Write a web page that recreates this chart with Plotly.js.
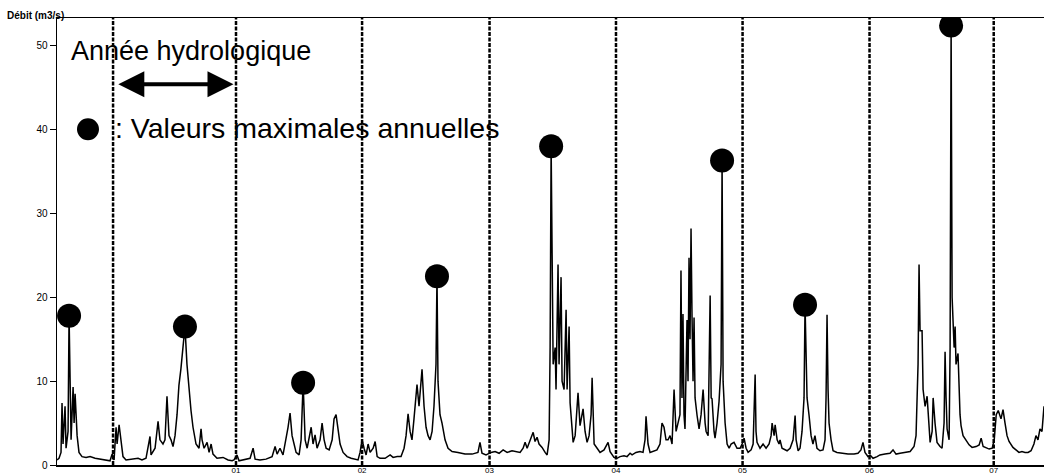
<!DOCTYPE html>
<html>
<head>
<meta charset="utf-8">
<script src="https://cdn.plot.ly/plotly-3.0.1.min.js"></script>
<style>
  html, body { margin: 0; padding: 0; background: #ffffff; }
  #chart { width: 1044px; height: 475px; }
</style>
</head>
<body>
<div id="chart"></div>
<script>
const years = [
1999.506,1999.522,1999.538,1999.546,1999.554,1999.570,1999.578,1999.594,1999.602,1999.618,
1999.634,1999.642,1999.650,1999.666,1999.681,1999.705,1999.737,1999.769,1999.809,1999.848,
1999.888,1999.920,1999.928,1999.944,1999.960,1999.976,1999.984,2000.000,2000.016,2000.031,
2000.055,2000.103,2000.151,2000.182,2000.214,2000.246,2000.254,2000.286,2000.310,2000.325,
2000.349,2000.365,2000.381,2000.397,2000.413,2000.429,2000.445,2000.461,2000.476,2000.492,
2000.508,2000.524,2000.540,2000.556,2000.572,2000.588,2000.612,2000.636,2000.652,2000.660,
2000.676,2000.700,2000.716,2000.732,2000.747,2000.779,2000.827,2000.867,2000.899,2000.914,
2000.938,2000.954,2000.994,2001.042,2001.066,2001.082,2001.121,2001.169,2001.217,2001.241,
2001.257,2001.280,2001.304,2001.328,2001.344,2001.360,2001.376,2001.392,2001.408,2001.432,
2001.448,2001.464,2001.480,2001.496,2001.512,2001.528,2001.543,2001.559,2001.575,2001.599,
2001.615,2001.631,2001.647,2001.671,2001.695,2001.710,2001.726,2001.742,2001.758,2001.782,
2001.814,2001.846,2001.878,2001.901,2001.917,2001.933,2001.949,2001.965,2001.981,2001.997,
2002.021,2002.037,2002.053,2002.076,2002.116,2002.156,2002.180,2002.212,2002.243,2002.267,
2002.283,2002.299,2002.315,2002.330,2002.346,2002.362,2002.370,2002.386,2002.394,2002.410,
2002.426,2002.442,2002.458,2002.474,2002.490,2002.505,2002.521,2002.529,2002.537,2002.553,
2002.569,2002.593,2002.617,2002.649,2002.696,2002.752,2002.808,2002.855,2002.871,2002.887,
2002.919,2002.935,2002.959,2002.991,2003.023,2003.055,2003.087,2003.126,2003.158,2003.190,
2003.214,2003.230,2003.246,2003.270,2003.294,2003.309,2003.325,2003.341,2003.365,2003.389,
2003.405,2003.421,2003.429,2003.437,2003.453,2003.469,2003.476,2003.492,2003.500,2003.516,
2003.524,2003.540,2003.556,2003.564,2003.580,2003.588,2003.604,2003.612,2003.628,2003.651,
2003.667,2003.691,2003.707,2003.723,2003.739,2003.755,2003.763,2003.779,2003.803,2003.826,
2003.858,2003.890,2003.906,2003.921,2003.937,2003.961,2003.985,2004.017,2004.041,2004.065,
2004.081,2004.112,2004.144,2004.168,2004.184,2004.192,2004.208,2004.224,2004.256,2004.279,
2004.303,2004.319,2004.335,2004.351,2004.367,2004.383,2004.399,2004.415,2004.431,2004.446,
2004.462,2004.470,2004.478,2004.486,2004.494,2004.502,2004.518,2004.526,2004.534,2004.542,
2004.550,2004.558,2004.566,2004.574,2004.582,2004.598,2004.614,2004.630,2004.646,2004.662,
2004.670,2004.686,2004.702,2004.710,2004.717,2004.733,2004.741,2004.757,2004.773,2004.789,
2004.797,2004.805,2004.821,2004.837,2004.853,2004.869,2004.892,2004.916,2004.940,2004.956,
2004.972,2004.988,2005.004,2005.028,2005.044,2005.060,2005.067,2005.075,2005.099,2005.123,
2005.147,2005.171,2005.187,2005.195,2005.211,2005.219,2005.235,2005.250,2005.258,2005.274,
2005.298,2005.314,2005.338,2005.362,2005.378,2005.386,2005.402,2005.417,2005.433,2005.449,
2005.457,2005.465,2005.473,2005.489,2005.505,2005.520,2005.536,2005.552,2005.576,2005.600,
2005.616,2005.624,2005.632,2005.640,2005.648,2005.664,2005.680,2005.711,2005.751,2005.799,
2005.847,2005.878,2005.902,2005.918,2005.934,2005.958,2005.974,2005.998,2006.030,2006.053,
2006.093,2006.133,2006.157,2006.181,2006.213,2006.253,2006.293,2006.324,2006.340,2006.356,
2006.364,2006.372,2006.388,2006.396,2006.412,2006.428,2006.444,2006.452,2006.468,2006.476,
2006.491,2006.507,2006.531,2006.547,2006.563,2006.571,2006.579,2006.587,2006.603,2006.611,
2006.619,2006.627,2006.643,2006.651,2006.658,2006.674,2006.690,2006.698,2006.714,2006.738,
2006.762,2006.786,2006.818,2006.842,2006.858,2006.874,2006.898,2006.922,2006.946,2006.962,
2006.978,2006.994,2007.016,2007.032,2007.048,2007.064,2007.080,2007.096,2007.111,2007.135,
2007.159,2007.183,2007.207,2007.231,2007.255,2007.278,2007.294,2007.310,2007.326,2007.342,
2007.358
];
const debit = [
0.6,0.8,1.5,7.4,2.5,7.0,2.0,4.0,17.8,3.0,
9.3,5.0,8.5,3.5,1.5,1.0,0.9,1.0,0.8,0.7,
0.6,0.5,0.5,1.3,0.6,4.5,2.5,4.8,3.0,1.0,
0.6,0.7,0.8,0.6,0.8,3.4,1.2,2.0,5.2,3.0,
2.5,3.0,8.2,3.5,3.0,2.2,3.5,6.0,9.5,11.5,
14.5,16.5,12.0,9.0,6.5,4.5,2.5,2.0,4.3,3.0,
2.0,2.7,1.5,2.5,1.3,0.8,0.9,0.6,0.5,0.6,
1.2,0.5,0.6,0.8,2.0,0.7,0.6,0.7,1.0,2.2,
1.3,2.0,1.2,3.0,4.5,6.2,3.5,2.5,1.5,1.2,
3.0,9.8,3.0,2.0,3.5,4.5,2.5,3.6,2.0,3.0,
5.0,3.0,2.0,1.8,3.0,5.5,6.0,4.0,2.5,1.5,
1.0,0.8,0.7,0.6,1.5,3.0,2.0,1.2,2.5,1.5,
2.0,2.8,1.0,0.8,0.8,1.2,0.9,1.0,1.0,2.0,
3.5,6.1,4.0,3.0,5.5,8.0,9.6,7.0,8.5,11.4,
7.0,4.5,3.5,3.0,4.0,7.0,12.0,22.5,10.0,6.0,
5.0,3.0,2.0,1.6,1.5,1.3,1.3,1.5,2.7,1.4,
1.2,1.3,1.5,1.6,1.4,1.8,1.5,1.7,1.6,1.5,
2.0,2.7,2.0,3.0,3.9,2.8,3.3,2.5,2.1,1.5,
1.2,3.0,14.0,38.0,12.0,14.0,9.0,23.9,12.0,22.4,
10.0,9.0,18.5,9.0,16.5,7.4,4.0,2.7,3.5,8.6,
4.7,6.7,4.0,2.7,3.5,6.0,10.4,2.5,2.0,1.5,
1.8,2.7,1.6,1.3,0.9,0.8,1.0,1.1,1.0,1.4,
1.2,1.5,1.6,1.5,3.0,5.8,2.5,1.5,1.7,1.8,
2.5,5.0,4.5,3.0,3.0,3.5,2.5,9.0,4.0,5.0,
6.0,23.2,8.0,18.0,6.0,4.3,17.3,10.0,24.7,15.0,
28.2,17.6,10.0,17.6,8.0,5.9,4.3,6.0,9.0,5.0,
4.0,3.5,20.2,8.0,7.9,4.0,3.2,5.0,7.6,12.0,
36.3,10.0,5.0,2.5,2.0,2.5,2.7,2.0,2.0,2.5,
3.2,2.0,1.5,1.8,2.5,10.8,4.0,2.7,2.0,2.5,
2.0,2.5,3.5,5.0,3.5,4.8,3.0,2.5,3.0,2.0,
1.8,1.7,2.0,3.0,5.9,3.0,1.7,2.0,4.0,8.0,
19.1,12.0,8.0,5.9,3.5,2.5,3.5,2.0,1.7,1.8,
3.0,8.0,17.9,9.0,5.0,3.0,1.7,1.5,1.4,1.3,
1.3,1.4,1.8,2.7,1.5,1.0,1.2,0.8,1.0,1.2,
1.3,1.4,1.8,1.3,1.4,1.5,1.6,2.2,3.5,12.0,
23.9,16.0,16.0,9.0,7.0,8.2,4.0,2.7,4.0,8.0,
5.0,2.7,2.2,2.0,5.0,13.5,8.0,4.3,3.0,14.0,
52.4,20.0,14.0,16.5,12.0,13.3,6.0,4.7,3.5,2.9,
2.4,2.1,2.2,2.4,3.2,2.2,2.0,1.9,2.0,3.0,
6.0,6.5,5.5,6.6,5.0,3.5,2.8,2.4,2.1,1.8,
1.5,1.6,1.5,1.5,1.7,2.5,3.5,3.0,4.3,4.0,
7.0
];
// Hydrological year boundaries (dashed lines), decimal years
const yearBounds = [1999.952, 2000.930, 2001.933, 2002.947, 2003.953, 2004.960, 2005.970, 2006.958];
const xTickLabels = ['01', '02', '03', '04', '05', '06', '07'];
const yTickVals = [0, 10, 20, 30, 40, 50];
const yTickText = ['0', '10', '20', '30', '40', '50'];

const xStart = 1999.506, xEnd = 2007.358;

// annual maxima computed from the series, one per hydrological year
const edges = [xStart].concat(yearBounds);
const maxX = [], maxY = [];
for (let k = 0; k < edges.length - 1; k++) {
  let best = -1;
  for (let i = 0; i < years.length; i++) {
    if (years[i] >= edges[k] && years[i] < edges[k + 1]) {
      if (best < 0 || debit[i] > debit[best]) best = i;
    }
  }
  if (best >= 0) { maxX.push(years[best]); maxY.push(debit[best]); }
}

const FONT = 'Arial, "Liberation Sans", sans-serif';

const traces = [
  {
    x: years, y: debit, type: 'scatter', mode: 'lines',
    line: { color: '#000000', width: 1.5 },
    hoverinfo: 'skip', showlegend: false
  },
  {
    x: maxX, y: maxY, type: 'scatter', mode: 'markers',
    marker: { color: '#000000', size: 24, line: { width: 0 } },
    showlegend: false
  }
];

const shapes = yearBounds.map(b => ({
  type: 'line', xref: 'x', yref: 'paper',
  x0: b, x1: b, y0: 0, y1: 1,
  line: { color: '#000000', width: 2.5, dash: '4px,1.5px' }
}));
// legend dot
shapes.push({
  type: 'circle', xref: 'paper', yref: 'paper',
  xsizemode: 'pixel', ysizemode: 'pixel',
  xanchor: 0.0314, yanchor: 0.751,
  x0: -11, x1: 11, y0: -11, y1: 11,
  fillcolor: '#000000', line: { width: 0 }
});

const arrowY = 45.4;
const annotations = [
  {
    xref: 'paper', yref: 'paper', x: -0.0527, y: 1.0067,
    xanchor: 'left', yanchor: 'middle', showarrow: false,
    text: '<b>Débit (m3/s)</b>',
    font: { family: FONT, size: 10, color: '#000000' }
  },
  {
    xref: 'paper', yref: 'paper', x: 0.0122, y: 0.926,
    xanchor: 'left', yanchor: 'middle', showarrow: false,
    text: 'Année hydrologique',
    font: { family: FONT, size: 27, color: '#000000' }
  },
  {
    xref: 'paper', yref: 'paper', x: 0.0565, y: 0.755,
    xanchor: 'left', yanchor: 'middle', showarrow: false,
    text: ': Valeurs maximales annuelles',
    font: { family: FONT, size: 28.5, color: '#000000' }
  },
  {
    xref: 'x', yref: 'y', axref: 'x', ayref: 'y',
    x: yearBounds[1] - 0.02, y: arrowY,
    ax: yearBounds[0] + 0.03, ay: arrowY,
    text: '', showarrow: true,
    arrowhead: 2, startarrowhead: 2, arrowside: 'end+start',
    arrowsize: 1.3, startarrowsize: 1.3, arrowwidth: 4,
    arrowcolor: '#000000', standoff: 0, startstandoff: 0
  }
];

const layout = {
  width: 1044, height: 475,
  margin: { l: 57, r: 0, t: 18, b: 10 },
  paper_bgcolor: '#ffffff', plot_bgcolor: '#ffffff',
  showlegend: false,
  font: { family: FONT, color: '#000000' },
  xaxis: {
    range: [xStart, xEnd],
    tickvals: yearBounds.slice(1), ticktext: xTickLabels,
    ticks: '', showgrid: false, zeroline: false,
    showline: true, mirror: true, linecolor: '#000000', linewidth: 1.5,
    ticklabelstandoff: -3,
    tickfont: { family: FONT, size: 8, color: '#000000' }
  },
  yaxis: {
    range: [0, 53.3],
    tickvals: yTickVals, ticktext: yTickText,
    ticks: 'outside', ticklen: 6, tickwidth: 1, tickcolor: '#000000',
    showgrid: false, zeroline: false,
    showline: true, linecolor: '#000000', linewidth: 1.5,
    tickfont: { family: FONT, size: 10, color: '#000000' }
  },
  shapes: shapes,
  annotations: annotations
};

Plotly.newPlot('chart', traces, layout, { displayModeBar: false, staticPlot: true });
</script>
</body>
</html>
